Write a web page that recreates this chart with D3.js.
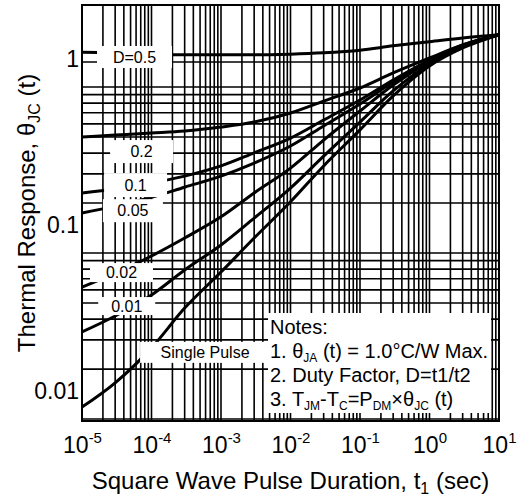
<!DOCTYPE html>
<html><head><meta charset="utf-8">
<script src="https://cdn.jsdelivr.net/npm/d3@7"></script>
<style>
body{margin:0;background:#fff}
text{font-family:"Liberation Sans",Arial,Helvetica,sans-serif;fill:#000}
</style>
</head><body>
<svg id="c" width="530" height="499"></svg>
<script>
// ---------- data ----------
const pulseTimes = [1e-5, 3e-5, 1e-4, 3e-4, 1e-3, 3e-3, 1e-2, 3e-2, 1e-1, 3e-1, 1, 3, 10];
const seriesNames = ["D=0.5", "0.2", "0.1", "0.05", "0.02", "0.01", "Single Pulse"];
const rD050 = [1.10, 1.09, 1.07, 1.06, 1.06, 1.06, 1.07, 1.09, 1.13, 1.20, 1.27, 1.34, 1.40];
const rD020 = [0.339, 0.348, 0.358, 0.368, 0.389, 0.417, 0.473, 0.558, 0.669, 0.824, 1.014, 1.214, 1.40];
const rD010 = [0.156, 0.165, 0.179, 0.197, 0.227, 0.272, 0.334, 0.429, 0.566, 0.747, 0.986, 1.214, 1.40];
const rD005 = [0.118, 0.130, 0.147, 0.169, 0.197, 0.236, 0.299, 0.395, 0.536, 0.727, 0.973, 1.198, 1.40];
const rD002 = [0.0423, 0.0514, 0.0651, 0.0835, 0.112, 0.156, 0.220, 0.325, 0.486, 0.697, 0.959, 1.198, 1.40];
const rD001 = [0.0227, 0.0283, 0.0379, 0.0536, 0.0758, 0.110, 0.167, 0.260, 0.417, 0.642, 0.933, 1.181, 1.40];
const rSingle = [0.0080, 0.0112, 0.0182, 0.0316, 0.0521, 0.0835, 0.138, 0.227, 0.374, 0.599, 0.907, 1.165, 1.40];

// curve label anchors (data units)
const labelT = [5.7e-5, 7.2e-5, 5.9e-5, 5.4e-5, 3.7e-5, 4.4e-5, 5.9e-4];
const labelR = [1.028, 0.277, 0.174, 0.122, 0.0517, 0.0325, 0.0171];

// axes
const xTickExponents = [-5, -4, -3, -2, -1, 0, 1];
const yTickValues = [1, 0.1, 0.01];
const yTickLabels = ["1", "0.1", "0.01"];
// horizontal grid decades as printed on the sheet
const gridDecadeBases = [0.00678, 0.0678];
const gridExtraValues = [0.678, 0.96];

// ---------- styling / layout ----------
const W = 530, H = 499;
const plot = {left: 82, right: 499, top: 5, bottom: 421};
const labelBoxW = [75, 63, 63, 60, 63, 57, 130];
const labelBoxH = [22, 23, 24, 23, 19, 18, 21];

const svg = d3.select("#c");
svg.append("rect").attr("width", W).attr("height", H).attr("fill", "#fff");

const x = d3.scaleLog().domain([1e-5, 10]).range([plot.left, plot.right]);
const y = d3.scaleLog().domain([0.0066, 2.115]).range([plot.bottom, plot.top]);

const g = svg.append("g");

// vertical grid
const vGrid = [];
for (let e = -5; e <= 0; e++) for (let k = 1; k <= 9; k++) vGrid.push(k * Math.pow(10, e));
vGrid.push(10);
g.append("g").selectAll("line").data(vGrid).join("line")
  .attr("x1", d => x(d)).attr("x2", d => x(d))
  .attr("y1", plot.top).attr("y2", plot.bottom)
  .attr("stroke", "#000").attr("stroke-width", 1.6);

// horizontal grid
const hGrid = [];
gridDecadeBases.forEach(b => { for (let k = 1; k <= 9; k++) hGrid.push(b * k); });
gridExtraValues.forEach(v => hGrid.push(v));
g.append("g").selectAll("line").data(hGrid).join("line")
  .attr("x1", plot.left).attr("x2", plot.right)
  .attr("y1", d => y(d)).attr("y2", d => y(d))
  .attr("stroke", "#000").attr("stroke-width", 1.6);

// curves
const allSeries = [rD050, rD020, rD010, rD005, rD002, rD001, rSingle];
const line = d3.line().x(d => x(d[0])).y(d => y(d[1])).curve(d3.curveMonotoneX);
g.append("g").selectAll("path").data(allSeries).join("path")
  .attr("d", s => line(pulseTimes.map((t, i) => [t, s[i]])))
  .attr("fill", "none").attr("stroke", "#000").attr("stroke-width", 3);

// curve labels (white boxes)
const lab = g.append("g").selectAll("g").data(seriesNames).join("g")
  .attr("transform", (d, i) => `translate(${x(labelT[i])},${y(labelR[i])})`);
lab.append("rect")
  .attr("x", (d, i) => -labelBoxW[i] / 2).attr("y", (d, i) => -labelBoxH[i] / 2)
  .attr("width", (d, i) => labelBoxW[i]).attr("height", (d, i) => labelBoxH[i])
  .attr("fill", "#fff");
lab.append("text").attr("text-anchor", "middle").attr("dy", "0.36em")
  .style("font-size", "16px").text(d => d);

// frame
g.append("rect").attr("x", plot.left).attr("y", plot.top)
  .attr("width", plot.right - plot.left).attr("height", plot.bottom - plot.top)
  .attr("fill", "none").attr("stroke", "#000").attr("stroke-width", 2);

// notes box
const notes = g.append("g");
notes.append("rect").attr("x", 268).attr("y", 313).attr("width", 223).attr("height", 100).attr("fill", "#fff");
const nt = notes.append("text").style("font-size", "20px");
nt.append("tspan").attr("x", 270).attr("y", 334).text("Notes:");
const l1 = nt.append("tspan").attr("x", 270).attr("y", 358);
l1.append("tspan").text("1. θ");
l1.append("tspan").attr("dy", 4).style("font-size", "12px").text("JA");
l1.append("tspan").attr("dy", -4).text(" (t) = 1.0°C/W Max.");
nt.append("tspan").attr("x", 270).attr("y", 382).text("2. Duty Factor, D=t1/t2");
const l3 = nt.append("tspan").attr("x", 270).attr("y", 406);
l3.append("tspan").text("3. T");
l3.append("tspan").attr("dy", 4).style("font-size", "12px").text("JM");
l3.append("tspan").attr("dy", -4).text("-T");
l3.append("tspan").attr("dy", 4).style("font-size", "12px").text("C");
l3.append("tspan").attr("dy", -4).text("=P");
l3.append("tspan").attr("dy", 4).style("font-size", "12px").text("DM");
l3.append("tspan").attr("dy", -4).text("×θ");
l3.append("tspan").attr("dy", 4).style("font-size", "12px").text("JC");
l3.append("tspan").attr("dy", -4).text(" (t)");

// x axis
const xAxis = d3.axisBottom(x).tickValues(xTickExponents.map(e => Math.pow(10, e)))
  .tickSize(0).tickPadding(0).tickFormat(() => "");
const xa = svg.append("g").attr("transform", `translate(0,${plot.bottom})`).call(xAxis);
xa.select(".domain").remove();
xa.selectAll(".tick").each(function(d, i) {
  const t = d3.select(this).select("text")
    .attr("y", 32).attr("dy", 0).attr("text-anchor", "middle").attr("fill", "#000")
    .style("font-size", "23px").style("font-family", "'Liberation Sans',Arial,sans-serif");
  t.append("tspan").text("10");
  t.append("tspan").attr("dy", -10).style("font-size", "15px").text(xTickExponents[i]);
});

// y axis
const yAxis = d3.axisLeft(y).tickValues(yTickValues).tickSize(0).tickPadding(3)
  .tickFormat((d, i) => yTickLabels[i]);
const ya = svg.append("g").attr("transform", `translate(${plot.left},0)`).call(yAxis);
ya.select(".domain").remove();
ya.selectAll("text").attr("fill", "#000").style("font-size", "23px")
  .style("font-family", "'Liberation Sans',Arial,sans-serif");

// axis titles
const xt = svg.append("text").attr("x", (plot.left + plot.right) / 2).attr("y", 489)
  .attr("text-anchor", "middle").style("font-size", "24px");
xt.append("tspan").text("Square Wave Pulse Duration, t");
xt.append("tspan").attr("dy", 5).style("font-size", "16px").text("1");
xt.append("tspan").attr("dy", -5).text(" (sec)");

const yt = svg.append("text")
  .attr("transform", `translate(35,${(plot.top + plot.bottom) / 2}) rotate(-90)`)
  .attr("text-anchor", "middle").style("font-size", "24px");
yt.append("tspan").text("Thermal Response, θ");
yt.append("tspan").attr("dy", 5).style("font-size", "16px").text("JC");
yt.append("tspan").attr("dy", -5).text(" (t)");
</script>
</body></html>
